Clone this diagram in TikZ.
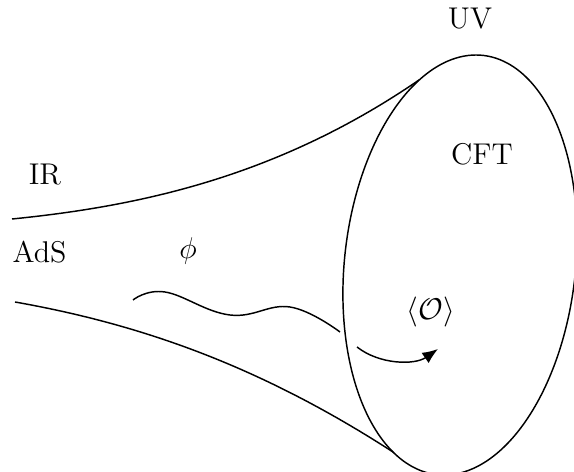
\documentclass[tikz,border=0pt]{standalone}
\usetikzlibrary{arrows.meta}
\begin{document}
\begin{tikzpicture}[x=0.48pt,y=-0.48pt,
  line/.style={line width=0.7pt},
  lbl/.style={font=\fontsize{14.4}{17}\selectfont, inner sep=0pt, anchor=base}]
\useasboundingbox (0,0) rectangle (574,472);
\begin{scope}
\clip (0,0) rectangle (574,472);
% ellipse (CFT boundary), slightly tilted, clipped by the frame
\draw[line] plot[variable=\t, domain=0:358, samples=180, smooth cycle]
  ({460+116*cos(\t)+16*sin(\t)}, {265-210*sin(\t)});
\end{scope}
% throat
\draw[line] (12,219) .. controls (142,206) and (279,176) .. (419,80);
\draw[line] (15,302) .. controls (145,325) and (263,368) .. (393,452);
% field
\draw[line] plot[smooth, tension=0.7] coordinates {(133,300) (165,292) (230,315) (290,307) (340,332)};
\coordinate (a0) at (357,347);
\coordinate (a1) at (438,349);
\draw[line, -{Latex[length=7.5pt,width=6pt]}] (a0) .. controls (380,365) and (415,365) .. (a1);
% labels
\node[lbl] (uv) at (470,29) {UV};
\node[lbl] (cft) at (482,165) {CFT};
\node[lbl] (ir) at (45,185) {IR};
\node[lbl] (ads) at (39.5,263) {AdS};
\node[lbl] (phi) at (188,259) {$\phi$};
\node[lbl] (op) at (431,319.5) {$\langle\mathcal{O}\rangle$};
\end{tikzpicture}
\end{document}
